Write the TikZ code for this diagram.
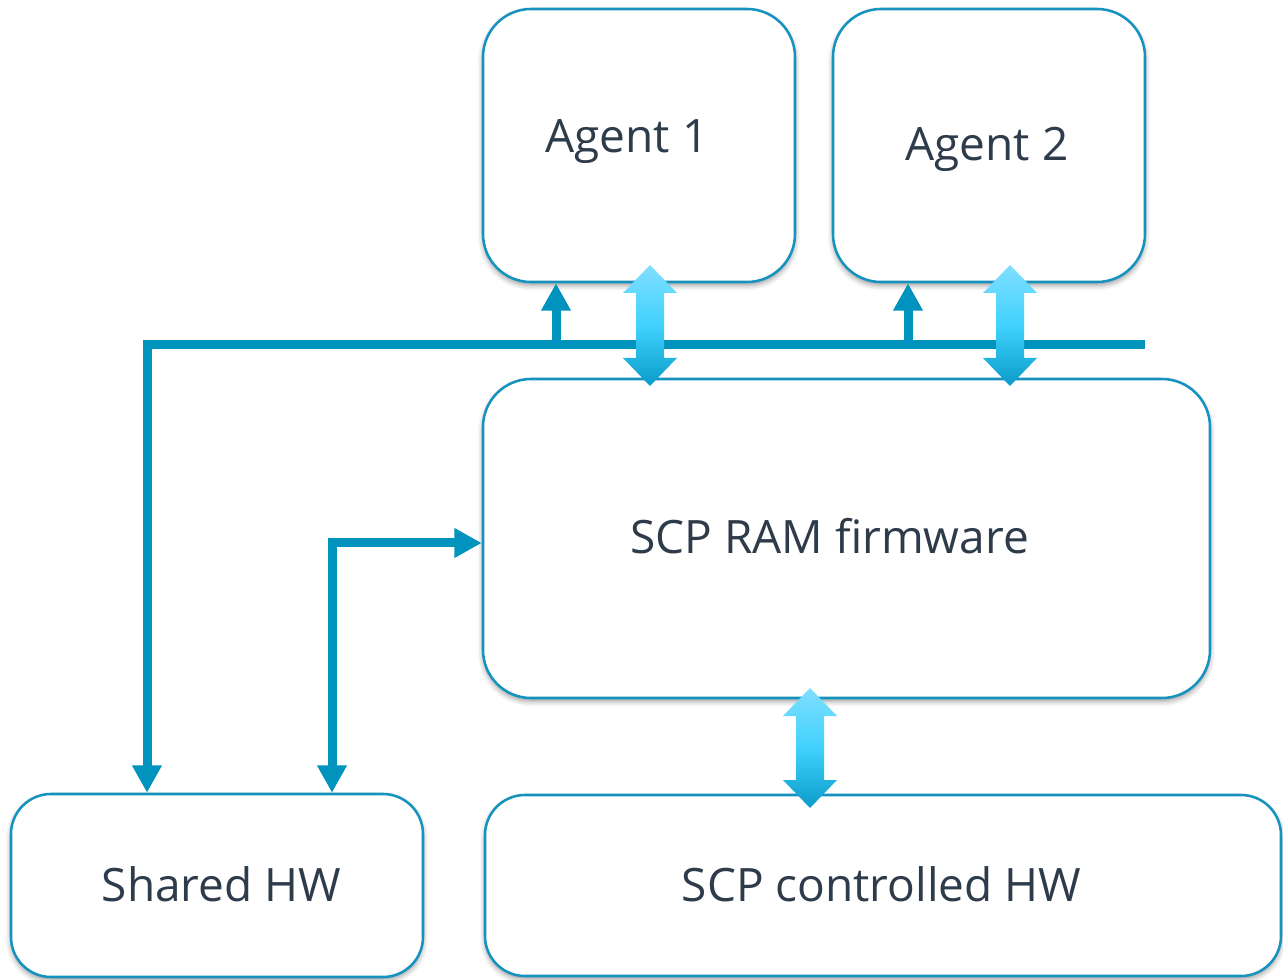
\documentclass[tikz,border=0pt]{standalone}
\usepackage{fontspec}
\setmainfont{Open Sans}
\usetikzlibrary{arrows.meta,shadows.blur}
\definecolor{busblue}{HTML}{0093BD}
\definecolor{boxblue}{HTML}{1592BE}
\definecolor{txtgray}{HTML}{2E3B4A}
\definecolor{fattop}{HTML}{80DEFF}
\definecolor{fatmid}{HTML}{40D2FD}
\definecolor{fatbot}{HTML}{0A9BC9}
\tikzset{
  hwbox/.style={draw=boxblue, line width=1.9pt, fill=white, rounded corners=#1,
    blur shadow={shadow xshift=0pt, shadow yshift=-2.5pt, shadow blur radius=4pt, shadow opacity=40}},
  hwbox/.default=36pt,
  lbl/.style={text=txtgray, font=\fontsize{34.5}{40}\selectfont, anchor=base, inner sep=0pt},
  bus/.style={draw=busblue, line width=6.75pt, line join=miter},
  tip/.style={-{Triangle[width=21pt,length=20.5pt]}},
  tips/.style={{Triangle[width=21pt,length=20.5pt]}-{Triangle[width=21pt,length=20.5pt]}},
  fat/.style={top color=fattop, bottom color=fatbot, middle color=fatmid, draw=none}
}
\newcommand{\fatarrow}[3]{%
  \shade[fat] (#1,#2) -- ({#1+27},{#2+28}) -- ({#1+14},{#2+28}) -- ({#1+14},{#3-28})
   -- ({#1+27},{#3-28}) -- (#1,#3) -- ({#1-27},{#3-28}) -- ({#1-14},{#3-28})
   -- ({#1-14},{#2+28}) -- ({#1-27},{#2+28}) -- cycle;}
\begin{document}
\begin{tikzpicture}[x=0.75pt,y=-0.75pt]
\useasboundingbox (0,0) rectangle (1283,980);
% boxes
\node[hwbox, minimum width=312*0.75pt, minimum height=273*0.75pt] (agent1) at (639,145.5) {};
\node[hwbox, minimum width=312*0.75pt, minimum height=273*0.75pt] (agent2) at (989,145.5) {};
\node[hwbox, minimum width=727*0.75pt, minimum height=319*0.75pt] (ram) at (846.5,538.5) {};
\node[hwbox=30pt, minimum width=412*0.75pt, minimum height=183*0.75pt] (shared) at (217,885.5) {};
\node[hwbox=30pt, minimum width=796*0.75pt, minimum height=181*0.75pt] (ctrl) at (883,885.5) {};
% labels
\node[lbl] (t1) at (627,153) {Agent 1};
\node[lbl] (t2) at (987,161) {Agent 2};
\node[lbl] (t3) at (829.5,553.5) {SCP RAM firmware};
\node[lbl] (t4) at (221.5,901.5) {Shared HW};
\node[lbl] (t5) at (881.5,901.5) {SCP controlled HW};
% bus
\coordinate (busL) at (147,345);
\coordinate (busR) at (1145,345);
\coordinate (up1) at (556,345);
\coordinate (up2) at (908,345);
\coordinate (w2) at (332,543);
\draw[bus,tip] (busR) -- (busL) -- (busL |- shared.north);
\draw[bus,tip] (up1) -- (up1 |- agent1.south);
\draw[bus,tip] (up2) -- (up2 |- agent2.south);
\draw[bus,tips] (w2 |- shared.north) -- (w2) -- (w2 -| ram.west);
% fat double arrows
\fatarrow{650}{265}{386}
\fatarrow{1010}{265}{386}
\fatarrow{810}{688}{808}
\end{tikzpicture}
\end{document}
